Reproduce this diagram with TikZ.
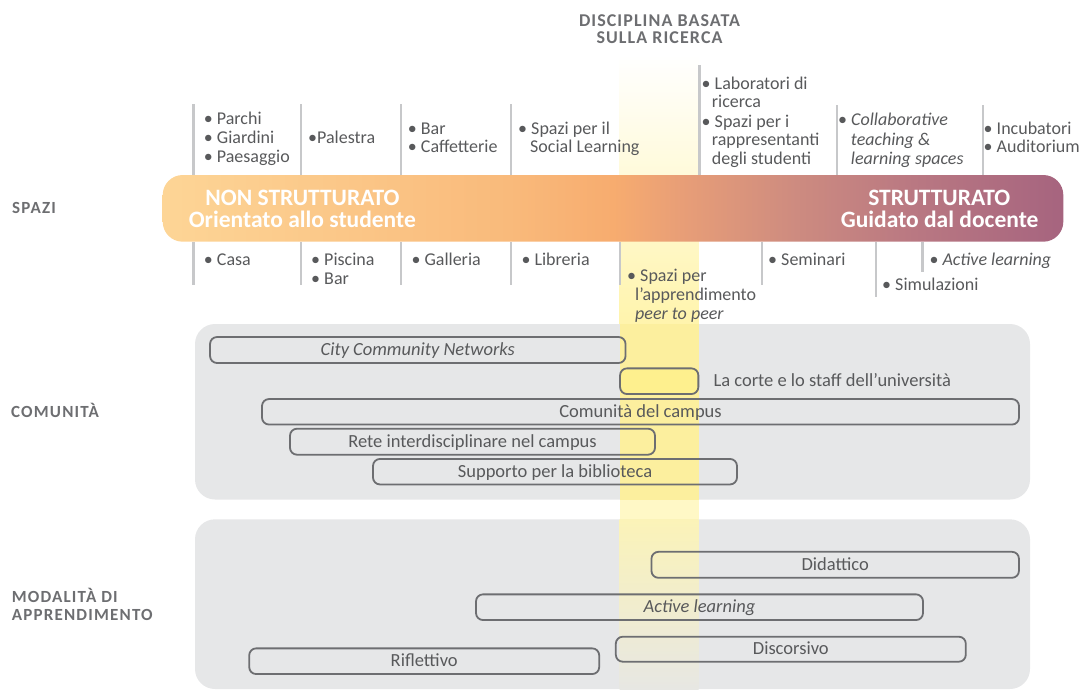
\documentclass[tikz,border=0pt]{standalone}
\usepackage{fontspec}
\setmainfont{Carlito}

\definecolor{ink}{HTML}{58595B}
\definecolor{labelgray}{HTML}{6D6E71}
\definecolor{divgray}{HTML}{C7C8CA}
\definecolor{panelgray}{HTML}{E6E7E8}
\definecolor{boxline}{HTML}{6D6E71}
\definecolor{bandtop}{HTML}{FFF4AC}
\definecolor{bandmid}{HTML}{FCEF9E}
\definecolor{bandgap}{HTML}{FFF8C6}
\definecolor{bandlow}{HTML}{FBF3B8}
\definecolor{bandend}{HTML}{E7E7E3}
\definecolor{courtfill}{HTML}{FEF08E}
\definecolor{barA}{HTML}{FDD596}
\definecolor{barB}{HTML}{F9BA7B}
\definecolor{barC}{HTML}{F7AC6F}
\definecolor{barD}{HTML}{E89E77}
\definecolor{barE}{HTML}{CD8B80}
\definecolor{barF}{HTML}{B97882}
\definecolor{barG}{HTML}{A6647F}

% left-to-right colour ramp of the structure bar
\pgfdeclarehorizontalshading{barshade}{100bp}{%
  color(0bp)=(barA); color(25bp)=(barA); color(44.2bp)=(barB);
  color(50bp)=(barC); color(53.8bp)=(barD); color(60.2bp)=(barE);
  color(66.7bp)=(barF); color(75bp)=(barG); color(100bp)=(barG)}

\tikzset{
  item/.style={anchor=base west, inner sep=0pt, text=ink,
    font=\fontsize{18}{19}\selectfont},
  baritem/.style={anchor=base, inner sep=0pt, text=white,
    font=\fontsize{23.5}{24}\selectfont\bfseries},
  rowlabel/.style={anchor=base west, inner sep=0pt, text=labelgray,
    font=\fontsize{17}{18}\selectfont\bfseries\addfontfeature{LetterSpace=7}},
  headline/.style={anchor=base, inner sep=0pt, text=labelgray,
    font=\fontsize{18}{19}\selectfont\bfseries\addfontfeature{LetterSpace=6}},
  divider/.style={draw=divgray, line width=2.4pt},
  panel/.style={fill=panelgray, rounded corners=20pt},
  tag/.style={draw=boxline, line width=1.8pt, rounded corners=7pt,
    inner sep=0pt, text=ink, text height=13pt, text depth=1.6pt,
    font=\fontsize{18.5}{19}\selectfont},
}

\begin{document}
\begin{tikzpicture}[x=1pt,y=-1pt]
\useasboundingbox (0,0) rectangle (1091,689);

% ---- research column (upper part, on white) ----
\path[top color=white, bottom color=bandtop] (619.5,55) rectangle (698.5,324);

% ---- grey panels ----
\path[panel] (195,324) rectangle (1030,499.5);
\path[panel] (195,519.3) rectangle (1030,689);

% ---- research column across the panels ----
\path[fill=bandmid] (619.5,324) rectangle (698.5,499.5);
\path[fill=bandgap] (619.5,499.5) rectangle (698.5,519.3);
\path[top color=bandlow, bottom color=bandend] (619.5,519.3) rectangle (698.5,689);

% ---- heading ----
\node[headline] (h1) at (659.5,26.6) {DISCIPLINA BASATA};
\node[headline] (h2) at (659.5,43.6) {SULLA RICERCA};

% ---- dividers above the bar ----
\foreach \x/\t in {193.3/104, 300.7/104, 400.7/104, 511/104, 699.3/65, 836.7/105, 982.7/105}
  \draw[divider] (\x,\t) -- (\x,175);

% ---- dividers below the bar ----
\foreach \x/\b in {193.3/285, 300.7/285, 400.7/285, 511/285, 620/285, 761.7/285, 875.7/296.7, 922.3/271.7}
  \draw[divider] (\x,242) -- (\x,\b);

% ---- structure bar ----
\path[shading=barshade, rounded corners=20pt] (162.7,175) rectangle (1063.3,241.7);
\node[baritem] (nonstr) at (302.5,205) {NON STRUTTURATO};
\node[baritem] (student) at (302.3,227.5) {Orientato allo studente};
\node[baritem] (str) at (939.3,205.5) {STRUTTURATO};
\node[baritem] (teacher) at (939.6,227.5) {Guidato dal docente};

% ---- row labels ----
\node[rowlabel] (spazi) at (12,213.6) {SPAZI};
\node[rowlabel] (comunita) at (11,417.8) {COMUNITÀ};
\node[rowlabel] (modal) at (11.7,602.2) {MODALITÀ DI};
\node[rowlabel] (appr) at (11.7,620.6) {APPRENDIMENTO};

% ---- spaces above the bar ----
\node[item] (u1a) at (203.7,124.7) {• Parchi};
\node[item] (u1b) at (203.7,143.4) {• Giardini};
\node[item] (u1c) at (203.7,162.4) {• Paesaggio};
\node[item] (u2a) at (308,143.4) {•Palestra};
\node[item] (u3a) at (407.7,134.7) {• Bar};
\node[item] (u3b) at (407.7,152.4) {• Caffetterie};
\node[item] (u4a) at (518,134) {• Spazi per il};
\node[item] (u4b) at (530,152.4) {Social Learning};
\node[item] (u5a) at (701.5,89) {• Laboratori di};
\node[item] (u5b) at (711.7,107.4) {ricerca};
\node[item] (u5c) at (701.5,127.4) {• Spazi per i};
\node[item] (u5d) at (711.7,145.7) {rappresentanti};
\node[item] (u5e) at (711.7,164) {degli studenti};
\node[item] (u6a) at (838,125.7) {• \textit{Collaborative}};
\node[item] (u6b) at (850.7,145.7) {\textit{teaching \&}};
\node[item] (u6c) at (850.7,164) {\textit{learning spaces}};
\node[item] (u7a) at (983.5,134) {• Incubatori};
\node[item] (u7b) at (983.5,152.4) {• Auditorium};

% ---- spaces below the bar ----
\node[item] (d1a) at (203.7,265) {• Casa};
\node[item] (d2a) at (311,265) {• Piscina};
\node[item] (d2b) at (311,284) {• Bar};
\node[item] (d3a) at (411.3,265) {• Galleria};
\node[item] (d4a) at (521.3,265) {• Libreria};
\node[item] (d5a) at (627,281.7) {• Spazi per};
\node[item] (d5b) at (635,300.7) {l’apprendimento};
\node[item] (d5c) at (635,319) {\textit{peer to peer}};
\node[item] (d6a) at (768,265) {• Seminari};
\node[item] (d7a) at (882,290.7) {• Simulazioni};
\node[item] (d8a) at (929.3,265) {• \textit{Active learning}};

% ---- communities ----
\node[tag, minimum width=415.5pt, minimum height=26pt] (city) at (417.8,350) {\textit{City Community Networks}};
\node[tag, fill=courtfill, minimum width=78.3pt, minimum height=25.7pt] (court) at (659.2,381.2) {};
\node[item, font=\fontsize{18.5}{19}\selectfont] (courtlabel) at (713.3,386.3) {La corte e lo staff dell’università};
\node[tag, minimum width=757pt, minimum height=25.5pt] (campus) at (640.5,411.8) {Comunità del campus};
\node[tag, minimum width=365pt, minimum height=26pt] (rete) at (472.5,441.7) {Rete interdisciplinare nel campus};
\node[tag, minimum width=364pt, minimum height=25.5pt] (biblio) at (555,471.7) {Supporto per la biblioteca};

% ---- learning modes ----
\node[tag, minimum width=367.5pt, minimum height=26pt] (didattico) at (835.2,564.8) {Didattico};
\node[tag, minimum width=447pt, minimum height=25.7pt] (active) at (699.5,607.2) {\textit{Active learning}};
\node[tag, minimum width=350pt, minimum height=25pt] (discorsivo) at (790.8,649.2) {Discorsivo};
\node[tag, minimum width=350pt, minimum height=25.7pt] (riflettivo) at (424.2,661.2) {Riflettivo};
\end{tikzpicture}
\end{document}
